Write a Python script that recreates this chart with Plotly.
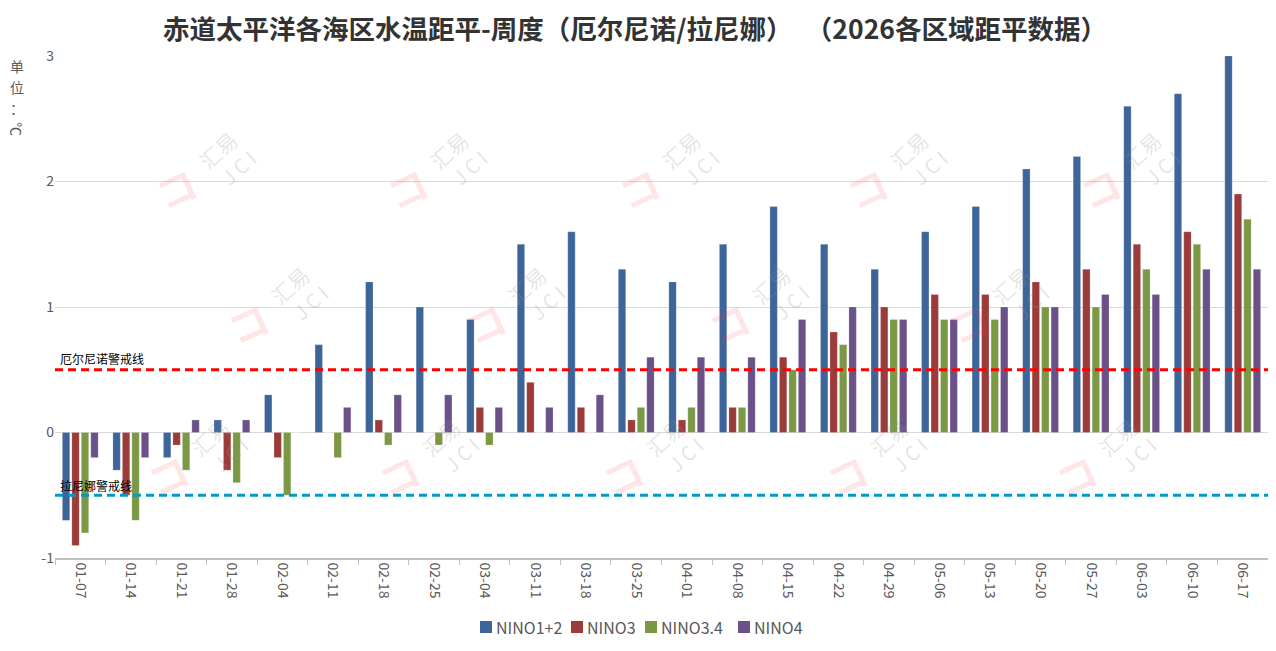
import plotly.graph_objects as go

# weekly SST anomaly, 2026
weeks = [
    "01-07", "01-14", "01-21", "01-28", "02-04", "02-11", "02-18", "02-25",
    "03-04", "03-11", "03-18", "03-25", "04-01", "04-08", "04-15", "04-22",
    "04-29", "05-06", "05-13", "05-20", "05-27", "06-03", "06-10", "06-17",
]
nino12 = [-0.7, -0.3, -0.2, 0.1, 0.3, 0.7, 1.2, 1.0, 0.9, 1.5, 1.6, 1.3,
          1.2, 1.5, 1.8, 1.5, 1.3, 1.6, 1.8, 2.1, 2.2, 2.6, 2.7, 3.0]
nino3 = [-0.9, -0.5, -0.1, -0.3, -0.2, 0.0, 0.1, 0.0, 0.2, 0.4, 0.2, 0.1,
         0.1, 0.2, 0.6, 0.8, 1.0, 1.1, 1.1, 1.2, 1.3, 1.5, 1.6, 1.9]
nino34 = [-0.8, -0.7, -0.3, -0.4, -0.5, -0.2, -0.1, -0.1, -0.1, 0.0, 0.0, 0.2,
          0.2, 0.2, 0.5, 0.7, 0.9, 0.9, 0.9, 1.0, 1.0, 1.3, 1.5, 1.7]
nino4 = [-0.2, -0.2, 0.1, 0.1, 0.0, 0.2, 0.3, 0.3, 0.2, 0.2, 0.3, 0.6,
         0.6, 0.6, 0.9, 1.0, 0.9, 0.9, 1.0, 1.0, 1.1, 1.1, 1.3, 1.3]

series_names = ["NINO1+2", "NINO3", "NINO3.4", "NINO4"]
series_values = [nino12, nino3, nino34, nino4]
series_colors = ["#3d6599", "#9b3b3a", "#7b9844", "#6a5289"]

el_nino_line = 0.5
la_nina_line = -0.5

y_ticks = [-1, 0, 1, 2, 3]
y_tick_text = ["-1", "0", "1", "2", "3"]

unit_chars = ["单", "位", "：", "℃"]

FONT = "Noto Sans CJK SC"
# page has an 8px body margin, so the figure is a bit smaller than the window
OFF = 8
W, H = 1260, 635
ML, MR, MT, MB = 47, 0, 48, 85
PW, PH = W - ML - MR, H - MT - MB


def px_x(x):
    # page pixel -> plot-area fraction
    return (x - OFF - ML) / PW


def px_y(y):
    return (H - MB - (y - OFF)) / PH


fig = go.Figure()

for name, vals, color in zip(series_names, series_values, series_colors):
    fig.add_trace(
        go.Bar(
            x=weeks,
            y=vals,
            name=name,
            showlegend=False,
            marker={"color": color, "line": {"color": "rgba(255,255,255,0.35)", "width": 0.6}},
        )
    )

# warning lines
fig.add_hline(y=el_nino_line, line={"color": "#ff0000", "width": 3, "dash": "8px,5px"})
fig.add_hline(y=la_nina_line, line={"color": "#0099cc", "width": 3, "dash": "8px,5px"})

fig.add_annotation(
    x=0, xref="paper", y=el_nino_line, yref="y", text="厄尔尼诺警戒线",
    showarrow=False, xanchor="left", yanchor="bottom", xshift=3, yshift=1,
    font={"size": 12, "color": "#000000", "family": FONT},
)
fig.add_annotation(
    x=0, xref="paper", y=la_nina_line, yref="y", text="拉尼娜警戒线",
    showarrow=False, xanchor="left", yanchor="bottom", xshift=3, yshift=-1,
    font={"size": 12, "color": "#000000", "family": FONT},
)

# y-axis unit, written vertically
for i, ch in enumerate(unit_chars):
    fig.add_annotation(
        x=px_x(17), xref="paper", y=px_y(66 + 21 * i), yref="paper", text=ch,
        showarrow=False, xanchor="center", yanchor="middle",
        textangle=90 if ch == "℃" else 0,
        font={"size": 14, "color": "#595959", "family": FONT},
    )

# legend drawn by hand so the spacing matches the original (Excel-style, tight)
legend_left = [480, 571, 645, 738]
legend_y = 627
for name, color, lx in zip(series_names, series_colors, legend_left):
    fig.add_shape(
        type="rect", xref="paper", yref="paper",
        x0=px_x(lx), x1=px_x(lx + 12), y0=px_y(legend_y + 6), y1=px_y(legend_y - 6),
        fillcolor=color, line={"width": 0},
    )
    fig.add_annotation(
        x=px_x(lx + 14), xref="paper", y=px_y(legend_y), yref="paper", text=name,
        showarrow=False, xanchor="left", yanchor="middle",
        font={"size": 16, "color": "#595959", "family": FONT},
    )

# faint "汇易 JCI" watermarks (page-pixel centres of the 汇易 text)
wm_centres = [
    (218, 150), (449, 150), (681, 150), (909, 150), (1142, 150),
    (290, 285), (527, 285), (771, 285), (1011, 285),
    (210, 437), (441, 437), (665, 437), (889, 437), (1118, 437),
]
wm_parts = [
    # text, dx, dy, size, angle, colour
    ("汇易", 0, 0, 21, -42, "rgba(150,150,150,0.25)"),
    ("J C I", 20, 17, 20, -42, "rgba(150,150,150,0.25)"),
    ("<b>コ</b>", -42, 38, 40, -25, "rgba(255,60,60,0.12)"),
]
for cx, cy in wm_centres:
    for text, dx, dy, size, angle, colour in wm_parts:
        fig.add_annotation(
            x=px_x(cx + dx), xref="paper", y=px_y(cy + dy), yref="paper", text=text,
            showarrow=False, textangle=angle, xanchor="center", yanchor="middle",
            font={"size": size, "color": colour, "family": FONT},
        )

fig.update_layout(
    title={
        "text": "<b>赤道太平洋各海区水温距平-周度（厄尔尼诺/拉尼娜）\u2002（2026各区域距平数据）</b>",
        "x": (635 - OFF) / W, "xanchor": "center", "y": 1 - 22 / H, "yanchor": "middle",
        "font": {"size": 26.5, "color": "#333333", "family": FONT},
    },
    barmode="group",
    bargap=0.25,
    bargroupgap=0.22,
    plot_bgcolor="white",
    paper_bgcolor="white",
    width=W,
    height=H,
    margin={"l": ML, "r": MR, "t": MT, "b": MB},
    font={"family": FONT, "color": "#595959"},
    showlegend=False,
    xaxis={
        "type": "category",
        "automargin": False,
        "tickangle": 90,
        "tickfont": {"size": 14, "color": "#595959"},
        "showline": True,
        "linecolor": "#bfbfbf",
        "linewidth": 1.5,
        "ticks": "outside",
        "tickson": "boundaries",
        "ticklen": 5,
        "tickcolor": "#bfbfbf",
        "showgrid": False,
    },
    yaxis={
        "automargin": False,
        "range": [-1, 3],
        "tickvals": y_ticks,
        "ticktext": y_tick_text,
        "tickfont": {"size": 14, "color": "#595959"},
        "showgrid": True,
        "gridcolor": "#d9d9d9",
        "gridwidth": 1,
        "zeroline": True,
        "zerolinecolor": "#d9d9d9",
        "zerolinewidth": 1,
        "ticks": "",
    },
)

fig.write_html("out.html")
